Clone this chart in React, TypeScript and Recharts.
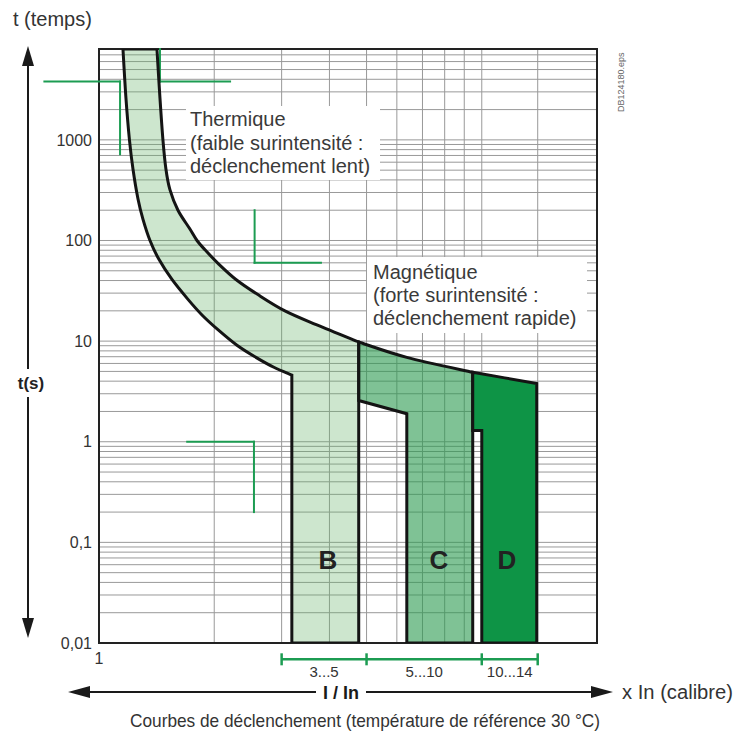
import React from "react";
import {
  ComposedChart, Scatter, XAxis, YAxis, CartesianGrid, ReferenceLine, ReferenceArea,
} from "recharts";

const FONT = '"Liberation Sans", Arial, Helvetica, sans-serif';
const W = 735;
const H = 734;
const T_MIN = 0.01;
const T_MAX = 8000;

type Pt = { x: number; t: number };

// limite basse de la zone thermique (non-déclenchement), du haut jusqu'au seuil B
const thermalLow: Pt[] = [
  { x: 1.155, t: 8000 }, { x: 1.176, t: 2600 }, { x: 1.201, t: 1000 }, { x: 1.227, t: 510 },
  { x: 1.264, t: 260 }, { x: 1.303, t: 162 }, { x: 1.359, t: 100 }, { x: 1.434, t: 65 },
  { x: 1.551, t: 41 }, { x: 1.708, t: 26 }, { x: 1.858, t: 18.2 }, { x: 2.045, t: 13 },
  { x: 2.293, t: 9.1 }, { x: 2.57, t: 6.9 }, { x: 2.863, t: 5.5 }, { x: 3.19, t: 4.6 },
];

// limite haute (déclenchement), prolongée au-dessus des zones C et D
const thermalHigh: Pt[] = [
  { x: 1.417, t: 8000 }, { x: 1.443, t: 2600 }, { x: 1.469, t: 1000 }, { x: 1.496, t: 510 },
  { x: 1.532, t: 320 }, { x: 1.608, t: 200 }, { x: 1.728, t: 130 }, { x: 1.803, t: 100 },
  { x: 1.891, t: 81 }, { x: 2.058, t: 58 }, { x: 2.279, t: 41 }, { x: 2.601, t: 29 },
  { x: 3.06, t: 20 }, { x: 3.709, t: 14.5 }, { x: 4.77, t: 9.8 }, { x: 6.37, t: 6.9 },
  { x: 9.47, t: 4.9 }, { x: 13.92, t: 3.8 },
];

// seuils magnétiques (x In)
const bandB = [3.19, 4.77];
const bandC = [6.37, 9.47];
const bandD = [10, 13.92];
const stepC: Pt[] = [{ x: 4.77, t: 2.57 }, { x: 6.37, t: 1.9 }];
const stepD: Pt[] = [{ x: 9.47, t: 1.29 }, { x: 10, t: 1.29 }];

// repères verts en équerre
const greenMarks: Pt[][] = [
  [{ x: 0.72, t: 3800 }, { x: 1.135, t: 3800 }, { x: 1.135, t: 720 }],
  [{ x: 1.443, t: 8000 }, { x: 1.443, t: 3800 }, { x: 2.2, t: 3800 }],
  [{ x: 2.55, t: 200 }, { x: 2.55, t: 60 }, { x: 3.8, t: 60 }],
  [{ x: 1.7, t: 1 }, { x: 2.54, t: 1 }, { x: 2.54, t: 0.2 }],
];

const bracketStops = [3, 5, 10, 14];
const bracketLabels = ["3...5", "5...10", "10...14"];

const yTicks = [0.01, 0.1, 1, 10, 100, 1000];
const multiples = [1, 2, 3, 4, 5, 6, 7, 8, 9];
const yGrid = yTicks
  .flatMap((d) => multiples.map((m) => +(d * m).toPrecision(3)))
  .filter((v) => v <= T_MAX);
const xGrid = [2, 3, 4, 5, 6, 7, 8, 9, 10, 14];

type Piece = { pts: Pt[]; curved?: boolean };

function assemble(pieces: Piece[]) {
  const data: Pt[] = [];
  const smooth: boolean[] = [];
  pieces.forEach((pc) => {
    pc.pts.forEach((p, i) => {
      data.push(p);
      smooth.push(!!pc.curved && i < pc.pts.length - 1);
    });
  });
  return { data, smooth };
}

function smoothPath(pts: { x: number; y: number }[], smooth: boolean[], closed: boolean) {
  const n = pts.length;
  let d = `M${pts[0].x},${pts[0].y}`;
  for (let i = 0; i < n - 1; i++) {
    const p1 = pts[i];
    const p2 = pts[i + 1];
    if (!smooth[i]) {
      d += `L${p2.x},${p2.y}`;
      continue;
    }
    const p0 = i > 0 && smooth[i - 1] ? pts[i - 1] : p1;
    const p3 = i + 2 < n && smooth[i + 1] ? pts[i + 2] : p2;
    const c1x = p1.x + (p2.x - p0.x) / 6;
    const c1y = p1.y + (p2.y - p0.y) / 6;
    const c2x = p2.x - (p3.x - p1.x) / 6;
    const c2y = p2.y - (p3.y - p1.y) / 6;
    d += `C${c1x},${c1y} ${c2x},${c2y} ${p2.x},${p2.y}`;
  }
  return closed ? d + "Z" : d;
}

const iB = thermalHigh.findIndex((p) => p.x === bandB[1]);
const iC = thermalHigh.findIndex((p) => p.x === bandC[1]);

const zoneB = assemble([
  { pts: thermalLow, curved: true },
  { pts: [{ x: bandB[0], t: T_MIN }, { x: bandB[1], t: T_MIN }] },
  { pts: thermalHigh.slice(0, iB + 1).reverse(), curved: true },
]);
const zoneC = assemble([
  { pts: thermalHigh.slice(iB, iC + 1), curved: true },
  { pts: [{ x: bandC[1], t: T_MIN }, { x: bandC[0], t: T_MIN }] },
  { pts: [...stepC].reverse() },
]);
const zoneD = assemble([
  { pts: thermalHigh.slice(iC), curved: true },
  { pts: [{ x: bandD[1], t: T_MIN }, { x: bandD[0], t: T_MIN }] },
  { pts: [...stepD].reverse() },
]);

const zones = [
  { key: "B", ...zoneB, fill: "#67b46a", opacity: 0.33 },
  { key: "C", ...zoneC, fill: "#2a9a4e", opacity: 0.6 },
  { key: "D", ...zoneD, fill: "#0e9446", opacity: 1 },
];

const GREEN = "#1c9c52";
const noDot = () => <g />;

export default function App() {
  const bracketT = 0.0069;
  return (
    <div style={{ position: "absolute", left: 0, top: 0, width: W, height: H, background: "#fff", fontFamily: FONT }}>
      <ComposedChart width={W} height={H} margin={{ top: 49, right: 138, bottom: 61, left: 0 }} style={{ fontFamily: FONT }}>
        <CartesianGrid horizontalValues={yGrid} verticalValues={xGrid} stroke="#999" strokeWidth={1} />
        <XAxis
          type="number" dataKey="x" scale="log" domain={[1, 20]} allowDataOverflow
          ticks={[1]} interval={0} axisLine={false} tickLine={false} tickSize={0} tickMargin={10} height={30}
          tick={{ fontSize: 16, fill: "#333" }}
        />
        <YAxis
          type="number" dataKey="t" scale="log" domain={[T_MIN, T_MAX]} allowDataOverflow
          ticks={yTicks} interval={0} axisLine={false} tickLine={false} tickSize={0} tickMargin={7} width={99}
          tick={{ fontSize: 16, fill: "#333" }}
          tickFormatter={(v: number) => String(v).replace(".", ",")}
        />
        {zones.map((z) => (
          <Scatter
            key={z.key}
            data={z.data}
            isAnimationActive={false}
            shape={noDot}
            line={(p: any) => (
              <path
                d={smoothPath(p.points, z.smooth, true)}
                fill={z.fill}
                fillOpacity={z.opacity}
                stroke="#141414"
                strokeWidth={3}
                strokeLinejoin="miter"
              />
            )}
          />
        ))}
        {greenMarks.flatMap((m, i) =>
          m.slice(1).map((p, j) => (
            <ReferenceLine
              key={`g${i}-${j}`}
              segment={[{ x: m[j].x, y: m[j].t }, { x: p.x, y: p.t }]}
              stroke={GREEN}
              strokeWidth={2}
              strokeLinecap="square"
              ifOverflow="visible"
            />
          ))
        )}
        {bracketLabels.map((lab, i) => (
          <ReferenceLine
            key={`b${i}`}
            segment={[{ x: bracketStops[i], y: bracketT }, { x: bracketStops[i + 1], y: bracketT }]}
            stroke={GREEN}
            strokeWidth={2.5}
            ifOverflow="visible"
            label={{ value: lab, position: "bottom", offset: 7, fontSize: 15, fill: "#333" }}
          />
        ))}
        {bracketStops.map((s) => (
          <ReferenceLine
            key={`s${s}`}
            segment={[{ x: s, y: 0.0079 }, { x: s, y: 0.006 }]}
            stroke={GREEN}
            strokeWidth={2.5}
            ifOverflow="visible"
          />
        ))}
        <ReferenceArea x1={1} x2={20} y1={T_MIN} y2={T_MAX} fill="none" stroke="#222" strokeWidth={2} ifOverflow="visible" />
      </ComposedChart>

      <svg width={W} height={H} style={{ position: "absolute", left: 0, top: 0, pointerEvents: "none", fontFamily: FONT }}>
        <text x={13} y={26} fontSize={20} fill="#333">t (temps)</text>

        <line x1={28} y1={62} x2={28} y2={622} stroke="#1a1a1a" strokeWidth={2} />
        <polygon points="28,46 22,66 34,66" fill="#1a1a1a" />
        <polygon points="28,638 22,618 34,618" fill="#1a1a1a" />
        <rect x={10} y={369} width={42} height={28} fill="#fff" />
        <text x={31} y={389} textAnchor="middle" fontSize={17} fontWeight="bold" fill="#222">t(s)</text>

        <line x1={86} y1={692} x2={596} y2={692} stroke="#1a1a1a" strokeWidth={2} />
        <polygon points="68,692 90,686 90,698" fill="#1a1a1a" />
        <polygon points="613,692 591,686 591,698" fill="#1a1a1a" />
        <rect x={316} y={680} width={50} height={24} fill="#fff" />
        <text x={341} y={699} textAnchor="middle" fontSize={18} fontWeight="bold" fill="#1a1a1a">I / In</text>
        <text x={622} y={699} fontSize={20} fill="#333" textLength={111} lengthAdjust="spacingAndGlyphs">x In (calibre)</text>

        <text x={130} y={727} fontSize={19} fill="#333" textLength={470} lengthAdjust="spacingAndGlyphs">
          Courbes de déclenchement (température de référence 30 °C)
        </text>

        <text transform="translate(624,112) rotate(-90)" fontSize={9} fill="#666">DB124180.eps</text>

        <rect x={186} y={106} width={194} height={74} fill="#fff" />
        <text fontSize={20} fill="#3a3a3a">
          <tspan x={190} y={126}>Thermique</tspan>
          <tspan x={190} y={150}>(faible surintensité :</tspan>
          <tspan x={190} y={173}>déclenchement lent)</tspan>
        </text>

        <rect x={367} y={257} width={220} height={76} fill="#fff" />
        <text fontSize={20} fill="#3a3a3a">
          <tspan x={373} y={279}>Magnétique</tspan>
          <tspan x={373} y={302}>(forte surintensité :</tspan>
          <tspan x={373} y={325}>déclenchement rapide)</tspan>
        </text>

        <text x={328} y={569} textAnchor="middle" fontSize={26} fontWeight="bold" fill="#222">B</text>
        <text x={439} y={569} textAnchor="middle" fontSize={26} fontWeight="bold" fill="#222">C</text>
        <text x={507} y={569} textAnchor="middle" fontSize={26} fontWeight="bold" fill="#222">D</text>
      </svg>
    </div>
  );
}
